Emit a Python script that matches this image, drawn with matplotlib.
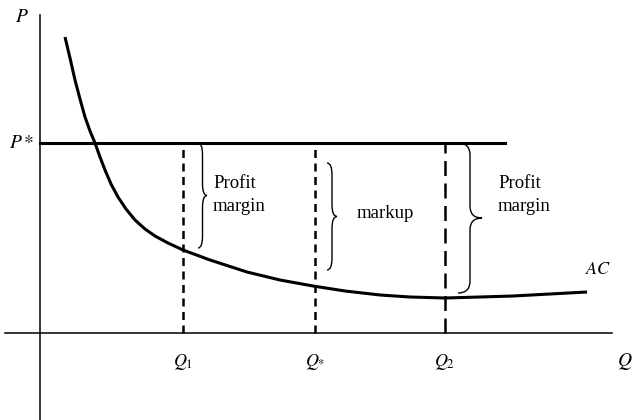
import numpy as np
import matplotlib.pyplot as plt
from matplotlib.path import Path
from matplotlib.patches import PathPatch

# AC curve (Q, P), origin at axes crossing
ac_q = [25, 30, 35, 40, 45, 50, 55, 60, 65, 71, 78, 86, 95, 105, 115, 128, 143,
        170, 207, 240, 273, 305, 340, 370, 405, 440, 473, 510, 547]
ac_p = [296, 275, 253, 234, 216, 202, 190, 176, 163, 149, 136, 124, 113, 104, 97, 90, 83,
        73, 61, 53, 47, 42, 38, 36, 35, 36, 37, 39, 41]
p_star = 190
p_star_end = 465
q_marks = [143, 275, 405]
q_labels = [r'$Q_1$', r'$Q_{*}$', r'$Q_2$']

# braces: (x of hooks, x of tip, top, bottom)
braces = [(158, 167, 190, 85), (287, 297, 170, 63), (418, 442, 190, 40)]
brace_text = ['Profit\nmargin', 'markup', 'Profit\nmargin']
brace_text_pos = [(173, 138), (317, 120), (458, 138)]

plt.rcParams['font.family'] = ['Liberation Serif', 'DejaVu Serif']
plt.rcParams['mathtext.fontset'] = 'stix'

fig = plt.figure(figsize=(6.33, 4.20), dpi=100)
ax = fig.add_axes([0, 0, 1, 1])
ax.set_xlim(-40, 593)
ax.set_ylim(-87, 333)
ax.axis('off')

# axes lines
ax.plot([0, 0], [-87, 318], color='black', lw=1.1)
ax.plot([-35, 572], [0, 0], color='black', lw=1.1)

# P* line and AC curve
ax.plot([0, p_star_end], [p_star, p_star], color='black', lw=2.2)
ax.plot(ac_q, ac_p, color='black', lw=2.2, solid_capstyle='butt', solid_joinstyle='round')

# dashed verticals
ax.plot([q_marks[0]] * 2, [0, p_star], color='black', lw=1.8, dashes=(3.2, 2.2))
ax.plot([q_marks[1]] * 2, [0, p_star], color='black', lw=1.8, dashes=(3.2, 2.2))
ax.plot([q_marks[2]] * 2, [0, p_star], color='black', lw=1.8, dashes=(6, 3))


def brace(x0, x1, top, bot):
    mid = (top + bot) / 2
    xm = (x0 + x1) / 2
    r = min(12, (top - bot) / 6)
    verts = [(x0, top), (xm, top), (xm, top - r),
             (xm, mid + r),
             (xm, mid), (x1, mid),
             (xm, mid), (xm, mid - r),
             (xm, bot + r),
             (xm, bot), (x0, bot)]
    codes = [Path.MOVETO, Path.CURVE3, Path.CURVE3,
             Path.LINETO,
             Path.CURVE3, Path.CURVE3,
             Path.CURVE3, Path.CURVE3,
             Path.LINETO,
             Path.CURVE3, Path.CURVE3]
    ax.add_patch(PathPatch(Path(verts, codes), fill=False, lw=1.0, color='black'))


for (x0, x1, top, bot) in braces:
    brace(x0, x1, top, bot)

for t, (x, y) in zip(brace_text, brace_text_pos):
    ax.text(x, y, t, fontsize=13.5, ha='left', va='center', linespacing=1.5)

# labels
ax.text(-18, 316, r'$P$', fontsize=14, ha='center', va='center')
ax.text(-18, p_star, r'$P*$', fontsize=14, ha='center', va='center')
for q, lab in zip(q_marks, q_labels):
    ax.text(q, -29, lab, fontsize=13, ha='center', va='center')
ax.text(585, -29, r'$Q$', fontsize=14, ha='center', va='center')
ax.text(558, 63, r'$AC$', fontsize=13, ha='center', va='center')

fig.savefig('out.png', dpi=100)
